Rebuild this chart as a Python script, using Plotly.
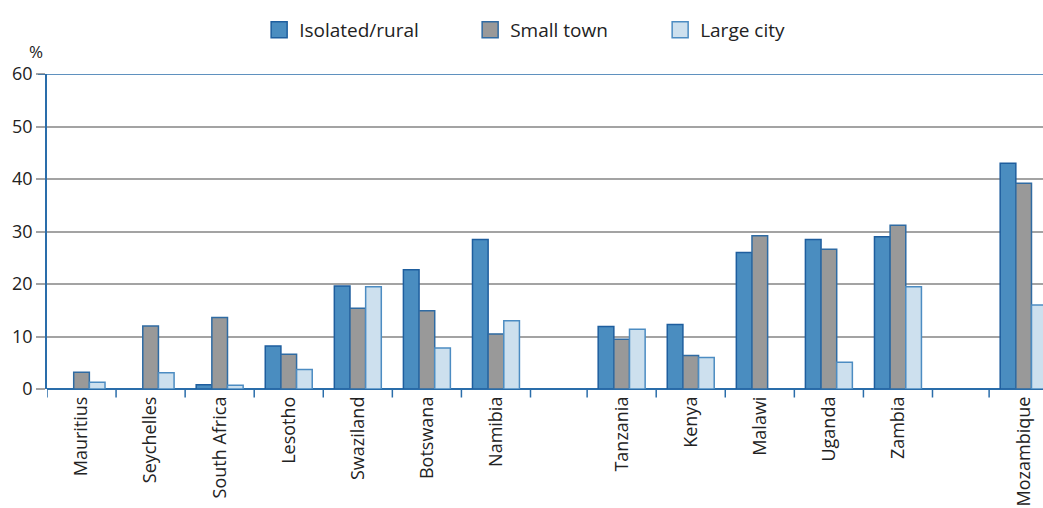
import plotly.graph_objects as go

# ---- data ----
categories = ["Mauritius", "Seychelles", "South Africa", "Lesotho", "Swaziland",
              "Botswana", "Namibia", "", "Tanzania", "Kenya", "Malawi", "Uganda",
              "Zambia", "", "Mozambique"]
isolated_rural = [None, None, 0.8, 8.2, 19.6, 22.7, 28.5, None,
                  11.9, 12.3, 26.0, 28.5, 29.0, None, 43.0]
small_town = [3.2, 12.0, 13.6, 6.6, 15.4, 14.9, 10.5, None,
              9.5, 6.4, 29.2, 26.6, 31.2, None, 39.2]
large_city = [1.3, 3.1, 0.7, 3.7, 19.5, 7.8, 13.0, None,
              11.4, 6.0, None, 5.1, 19.5, None, 16.0]
series_names = ["Isolated/rural", "Small town", "Large city"]
y_ticks = [0, 10, 20, 30, 40, 50, 60]

# ---- styling ----
FONT = "Open Sans"
TEXT = "#222222"
AXIS_BLUE = "#2A6DAA"
GRID = "#A3A3A3"
fills = ["#4A8DC0", "#999999", "#CDE0EE"]
edges = ["#1E5E9E", "#2F6BA3", "#4C8CC2"]
GAP_W = 0.82  # width of blank separator slots relative to a country slot

# category slot geometry (numeric axis)
widths = [GAP_W if c == "" else 1.0 for c in categories]
lefts, centers = [], []
pos = -0.5
for w in widths:
    lefts.append(pos)
    centers.append(pos + w / 2)
    pos += w
country_idx = [i for i, c in enumerate(categories) if c != ""]

fig = go.Figure()
for name, vals, fc, ec in zip(series_names, [isolated_rural, small_town, large_city], fills, edges):
    fig.add_trace(go.Bar(
        x=[centers[i] for i in country_idx],
        y=[vals[i] for i in country_idx],
        name=name, showlegend=False,
        marker=dict(color=fc, line=dict(color=ec, width=1.5)),
    ))

# legend entries with larger square swatches
legend_widths = [166, 145, 120]
for name, fc, ec, lw in zip(series_names, fills, edges, legend_widths):
    fig.add_trace(go.Scatter(
        x=[None], y=[None], mode="markers", name=name, legendwidth=lw,
        marker=dict(symbol="square", size=16, color=fc, line=dict(color=ec, width=1.5)),
    ))

# boundary tick marks on the category axis
shapes = []
for i in range(len(categories)):
    shapes.append(dict(type="line", xref="x", yref="y domain",
                       x0=lefts[i], x1=lefts[i], y0=0, y1=-0.027,
                       line=dict(color=AXIS_BLUE, width=1.5)))
# blue top line at 60
shapes.append(dict(type="line", xref="paper", yref="y", x0=-0.009, x1=1,
                   y0=y_ticks[-1], y1=y_ticks[-1], line=dict(color=AXIS_BLUE, width=1.5)))

fig.update_layout(
    width=1043, height=508,
    margin=dict(l=47, r=0, t=74, b=119),
    paper_bgcolor="white", plot_bgcolor="white",
    barmode="group", bargap=0.32, bargroupgap=0,
    font=dict(family=FONT, size=18, color=TEXT),
    shapes=shapes,
    legend=dict(orientation="h", x=0.213, xanchor="left", y=1.14, yanchor="middle",
                font=dict(family=FONT, size=19, color=TEXT), bgcolor="rgba(0,0,0,0)"),
    annotations=[dict(text="%", xref="paper", yref="paper", x=-0.011, y=1.07,
                      xanchor="center", yanchor="middle", showarrow=False,
                      font=dict(family=FONT, size=17, color=TEXT))],
)
fig.update_xaxes(
    range=[-0.5, 13.92],
    tickmode="array",
    tickvals=[centers[i] for i in country_idx],
    ticktext=[categories[i] for i in country_idx],
    tickangle=-90, ticks="", showgrid=False, zeroline=False,
    showline=False, ticklabelstandoff=3,
    tickfont=dict(family=FONT, size=18, color=TEXT),
)
fig.update_yaxes(
    range=[0, 60], tickmode="array", tickvals=y_ticks,
    showgrid=True, gridcolor=GRID, gridwidth=1.5,
    ticks="outside", ticklen=9, tickcolor=GRID, tickwidth=1.5,
    showline=True, linecolor=AXIS_BLUE, linewidth=1.5,
    zeroline=True, zerolinecolor=AXIS_BLUE, zerolinewidth=1.5,
    tickfont=dict(family=FONT, size=18, color=TEXT),
)

fig.write_html("out.html", config={"displayModeBar": False},
               post_script="document.body.style.margin='0';")
